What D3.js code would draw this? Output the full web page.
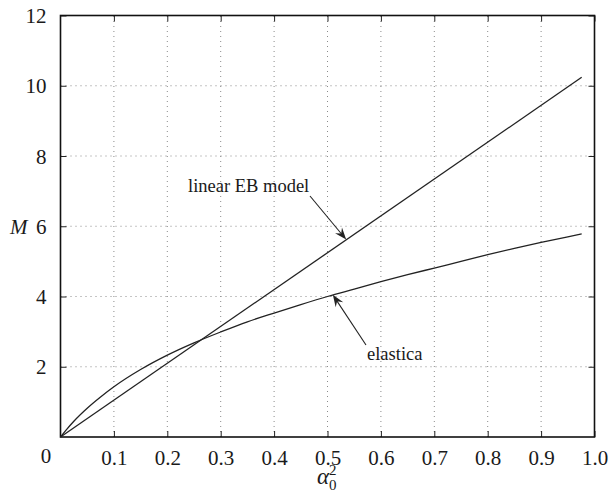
<!DOCTYPE html>
<html><head><meta charset="utf-8">
<script src="https://cdn.jsdelivr.net/npm/d3@7"></script>
<style>body{margin:0;background:#fff}svg{display:block}</style>
</head><body><svg id="c" width="610" height="502"></svg>
<script>
const xTicks = [0.1,0.2,0.3,0.4,0.5,0.6,0.7,0.8,0.9,1.0];
const xTickLabels = ["0.1","0.2","0.3","0.4","0.5","0.6","0.7","0.8","0.9","1.0"];
const yTicks = [2,4,6,8,10,12];
const yTickLabels = ["2","4","6","8","10","12"];
const linearAlpha = [0, 0.976];
const linearM = [0, 10.24];
const elasticaAlpha = [0,0.01,0.025,0.05,0.075,0.1,0.15,0.2,0.25,0.3,0.35,0.4,0.45,0.5,0.55,0.6,0.65,0.7,0.75,0.8,0.85,0.9,0.95,0.976];
const elasticaM = [0,0.19,0.45,0.82,1.14,1.43,1.92,2.33,2.68,2.99,3.28,3.53,3.77,4.0,4.21,4.42,4.62,4.81,5.0,5.19,5.37,5.54,5.70,5.78];
const annotations = [
  {text:"linear EB model", tx:188, ty:192, at:[0.535, 5.62], from:[310,196]},
  {text:"elastica", tx:367, ty:360, at:[0.51, 4.05], from:[366,345]}
];

const svg = d3.select("#c");
const L=60.5, R=594.5, T=15.5, B=437;
const x = d3.scaleLinear().domain([0,1]).range([L,R]);
const y = d3.scaleLinear().domain([0,12]).range([B,T]);
const FONT = "'Liberation Serif'";
const INK = "#1a1a1a";

// grid
const grid = svg.append("g").attr("stroke","#8a8a8a").attr("stroke-width",1).attr("stroke-dasharray","1,4");
xTicks.slice(0,-1).forEach(t=>grid.append("line").attr("x1",x(t)).attr("x2",x(t)).attr("y1",B).attr("y2",T));
yTicks.slice(0,-1).forEach(t=>grid.append("line").attr("y1",y(t)).attr("y2",y(t)).attr("x1",L).attr("x2",R));

// axes with inward ticks on all sides
const axB = d3.axisBottom(x).tickValues(xTicks).tickSize(-6).tickFormat((d,i)=>xTickLabels[i]).tickPadding(13);
const axT = d3.axisTop(x).tickValues(xTicks).tickSize(-6).tickFormat("");
const axL = d3.axisLeft(y).tickValues(yTicks).tickSize(-6).tickFormat((d,i)=>yTickLabels[i]).tickPadding(14);
const axR = d3.axisRight(y).tickValues(yTicks).tickSize(-6).tickFormat("");
function style(g){g.attr("font-family",null);g.select(".domain").remove();g.selectAll("line").attr("stroke","#222").attr("stroke-width",1);g.selectAll("text").style("font-size","21px").style("font-family",FONT).attr("fill",INK);}
svg.append("g").attr("transform",`translate(0,${B})`).call(axB).call(style);
svg.append("g").attr("transform",`translate(0,${T})`).call(axT).call(style);
svg.append("g").attr("transform",`translate(${L},0)`).call(axL).call(style).selectAll("text").attr("dy","0.34em");
svg.append("g").attr("transform",`translate(${R},0)`).call(axR).call(style);
svg.append("text").attr("x",46).attr("y",463).attr("text-anchor","middle").style("font-size","21px").style("font-family",FONT).attr("fill",INK).text("0");

svg.append("rect").attr("x",L).attr("y",T).attr("width",R-L).attr("height",B-T).attr("fill","none").attr("stroke","#111").attr("stroke-width",1.6);

// curves
const line = d3.line().x(d=>x(d[0])).y(d=>y(d[1]));
svg.append("path").datum(linearAlpha.map((a,i)=>[a,linearM[i]])).attr("d",line).attr("fill","none").attr("stroke","#222").attr("stroke-width",1.3);
svg.append("path").datum(elasticaAlpha.map((a,i)=>[a,elasticaM[i]])).attr("d",line.curve(d3.curveMonotoneX)).attr("fill","none").attr("stroke","#222").attr("stroke-width",1.3);

// annotations
annotations.forEach(a=>{
  const tx=x(a.at[0]), ty=y(a.at[1]);
  const [fx,fy]=a.from;
  const ang=Math.atan2(ty-fy,tx-fx);
  svg.append("line").attr("x1",fx).attr("y1",fy).attr("x2",tx-Math.cos(ang)*4).attr("y2",ty-Math.sin(ang)*4).attr("stroke","#222").attr("stroke-width",1.1);
  const len=12, w=4.5;
  const bx=tx-Math.cos(ang)*len, by=ty-Math.sin(ang)*len;
  const nx=-Math.sin(ang), ny=Math.cos(ang);
  const mx=tx-Math.cos(ang)*len*0.65, my=ty-Math.sin(ang)*len*0.65;
  svg.append("path").attr("d",`M${tx},${ty}L${bx+nx*w},${by+ny*w}L${mx},${my}L${bx-nx*w},${by-ny*w}Z`).attr("fill","#222");
  svg.append("text").attr("x",a.tx).attr("y",a.ty).style("font-size","18.5px").style("font-family",FONT).attr("fill",INK).text(a.text);
});

// axis labels
const xl = svg.append("text").attr("x",317).attr("y",484).style("font-size","23px").style("font-family",FONT).style("font-style","italic").attr("fill",INK);
xl.append("tspan").text("α");
xl.append("tspan").style("font-size","15px").style("font-style","normal").attr("dx",0).attr("dy",-9).text("2");
xl.append("tspan").style("font-size","15px").style("font-style","normal").attr("dx",-7.5).attr("dy",15).text("0");
svg.append("text").attr("x",10).attr("y",234).style("font-size","21px").style("font-family",FONT).style("font-style","italic").attr("fill",INK).text("M");
</script></body></html>
